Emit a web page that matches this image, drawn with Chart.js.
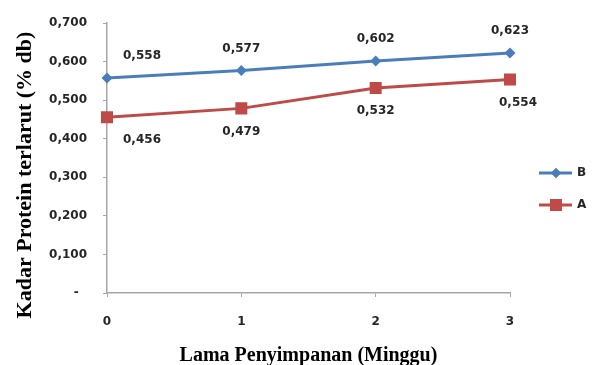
<!DOCTYPE html>
<html>
<head>
<meta charset="utf-8">
<script src="https://cdn.jsdelivr.net/npm/chart.js@4/dist/chart.umd.min.js"></script>
<style>
  html, body { margin: 0; padding: 0; background: #ffffff; }
  #wrap { width: 597px; height: 365px; }
</style>
</head>
<body>
<div id="wrap"><canvas id="c" width="597" height="365"></canvas></div>
<script>
// Storage time in weeks
const weeks = ['0', '1', '2', '3'];
// Soluble protein content (% db)
const seriesB = [0.558, 0.577, 0.602, 0.623];
const seriesA = [0.456, 0.479, 0.532, 0.554];
// Y axis range
const yMin = 0;
const yMax = 0.7;
const yStep = 0.1;

const BLUE = '#4a7ebb';
const RED = '#be4b48';
const AXIS = '#a6a6a6';
const TEXT = '#262626';
const tickFont = { family: 'DejaVu Sans', size: 12, weight: 'bold' };

const fmt = v => v.toFixed(3).replace('.', ',');

// Value labels next to each point
const valueLabels = {
  id: 'valueLabels',
  afterDatasetsDraw(chart) {
    const ctx = chart.ctx;
    ctx.save();
    ctx.font = 'bold 12px "DejaVu Sans"';
    ctx.fillStyle = TEXT;
    ctx.textAlign = 'center';
    ctx.textBaseline = 'middle';
    chart.data.datasets.forEach((ds, di) => {
      const meta = chart.getDatasetMeta(di);
      meta.data.forEach((pt, i) => {
        let dx = 0;
        if (i === 0) dx = 35;
        if (ds.labelSide === 'below' && i === ds.data.length - 1) dx = 8;
        const dy = ds.labelSide === 'above' ? -22 : 23;
        ctx.fillText(fmt(ds.data[i]), pt.x + dx, pt.y + dy);
      });
    });
    ctx.restore();
  }
};

// Axis titles and the legend on the right
const decorations = {
  id: 'decorations',
  afterDraw(chart) {
    const ctx = chart.ctx;
    const area = chart.chartArea;
    ctx.save();
    ctx.fillStyle = '#000000';
    ctx.textAlign = 'center';
    ctx.textBaseline = 'middle';

    ctx.font = 'bold 20px "Liberation Serif"';
    ctx.fillText('Lama Penyimpanan (Minggu)', (area.left + area.right) / 2, 356);

    ctx.save();
    ctx.translate(25, 175);
    ctx.rotate(-Math.PI / 2);
    ctx.font = 'bold 22px "Liberation Serif"';
    ctx.fillText('Kadar Protein terlarut (% db)', 0, 0);
    ctx.restore();

    const entries = [
      { name: 'B', color: BLUE, style: 'rectRot', r: 5, y: 173 },
      { name: 'A', color: RED, style: 'rect', r: 8.5, y: 205 }
    ];
    entries.forEach(e => {
      ctx.strokeStyle = e.color;
      ctx.lineWidth = 3;
      ctx.beginPath();
      ctx.moveTo(539, e.y);
      ctx.lineTo(572, e.y);
      ctx.stroke();
      ctx.fillStyle = e.color;
      Chart.helpers.drawPoint(ctx, { pointStyle: e.style, radius: e.r, borderWidth: 0 }, 556, e.y);
      ctx.fill();
      ctx.fillStyle = TEXT;
      ctx.font = 'bold 12px "DejaVu Sans"';
      ctx.textAlign = 'left';
      ctx.fillText(e.name, 577, e.y);
    });
    ctx.restore();
  }
};

new Chart(document.getElementById('c'), {
  type: 'line',
  data: {
    labels: weeks,
    datasets: [
      {
        label: 'B',
        data: seriesB,
        labelSide: 'above',
        borderColor: BLUE,
        backgroundColor: BLUE,
        borderWidth: 3,
        pointStyle: 'rectRot',
        pointRadius: 5.5,
        pointBorderWidth: 0,
        tension: 0,
        fill: false
      },
      {
        label: 'A',
        data: seriesA,
        labelSide: 'below',
        borderColor: RED,
        backgroundColor: RED,
        borderWidth: 3,
        pointStyle: 'rect',
        pointRadius: 8.5,
        pointBorderWidth: 0,
        tension: 0,
        fill: false
      }
    ]
  },
  options: {
    responsive: false,
    animation: false,
    devicePixelRatio: 1,
    layout: { padding: { top: 20, right: 87, left: 0, bottom: 0 } },
    plugins: {
      legend: { display: false },
      tooltip: { enabled: false }
    },
    scales: {
      x: {
        type: 'category',
        offset: false,
        grid: { drawOnChartArea: false, drawTicks: true, tickLength: 4, color: AXIS },
        border: { display: true, color: AXIS, width: 1.5 },
        ticks: { font: tickFont, color: TEXT, padding: 18, maxRotation: 0 },
        afterFit(s) { s.height = 72; }
      },
      y: {
        min: yMin,
        max: yMax,
        grid: { drawOnChartArea: false, drawTicks: true, tickLength: 4, color: AXIS },
        border: { display: true, color: AXIS, width: 1.5 },
        ticks: {
          stepSize: yStep,
          font: tickFont,
          color: TEXT,
          padding: 16,
          callback: v => (Math.abs(v) < 1e-9 ? '-  ' : fmt(v))
        },
        afterFit(s) { s.width = 107; }
      }
    }
  },
  plugins: [valueLabels, decorations]
});
</script>
</body>
</html>
